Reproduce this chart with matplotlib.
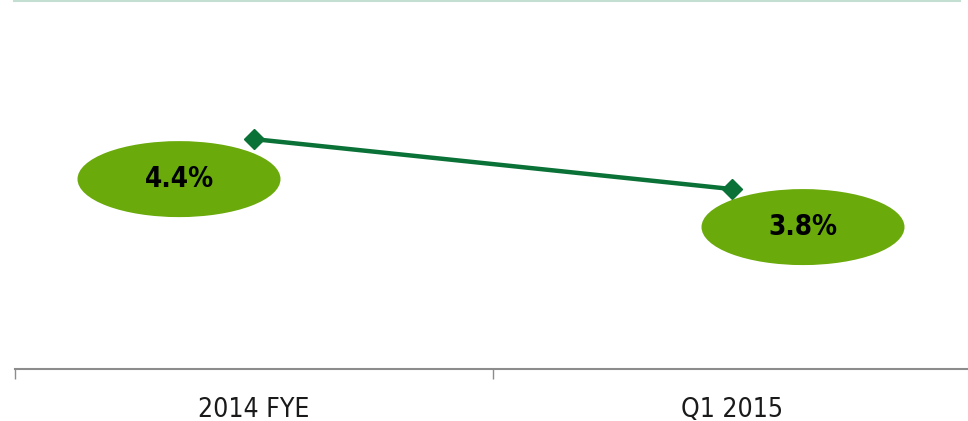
import matplotlib
matplotlib.use("Agg")
import matplotlib.pyplot as plt
from matplotlib.patches import Ellipse
from matplotlib.lines import Line2D

categories = ["2014 FYE", "Q1 2015"]
values = [4.4, 3.8]
value_labels = ["4.4%", "3.8%"]

W, H, DPI = 968, 421, 100
fig = plt.figure(figsize=(W / DPI, H / DPI), dpi=DPI)

# plot area in pixels
left_px, right_px = 15, 971
bottom_px, top_px = 369, 0
ax = fig.add_axes([left_px / W, (H - bottom_px) / H,
                   (right_px - left_px) / W, (bottom_px - top_px) / H])
ax.set_xlim(0, len(categories))
ax.set_ylim(1.64, 6.07)

xs = [i + 0.5 for i in range(len(categories))]
line_color = "#0a7137"
ax.plot(xs, values, color=line_color, lw=3.2, marker="D", ms=10,
        mfc=line_color, mec=line_color, zorder=3, solid_capstyle="butt")

for s in ["top", "right", "left"]:
    ax.spines[s].set_visible(False)
ax.spines["bottom"].set_color("#8c8c8c")
ax.spines["bottom"].set_linewidth(1.5)
ax.set_yticks([])
ax.set_xticks(range(len(categories) + 1))
ax.set_xticklabels([])
ax.tick_params(axis="x", direction="out", length=7, width=1, color="#8c8c8c")
ax.set_xticks(xs, minor=True)
ax.set_xticklabels(categories, minor=True, fontsize=19, family="DejaVu Sans",
                   fontstretch="condensed", color="#1a1a1a")
ax.tick_params(axis="x", which="minor", length=0, pad=20)

# value bubbles, offset from the points in pixels
offsets = [(-75, -40), (71, -38)]
ell_w, ell_h = 203, 76
fig.canvas.draw()
for x, v, lab, (dx, dy) in zip(xs, values, value_labels, offsets):
    px, py = ax.transData.transform((x, v))
    cx, cy = px + dx, py + dy
    e = Ellipse((cx, cy), ell_w, ell_h, transform=None,
                facecolor="#6aaa0b", edgecolor="none", zorder=4)
    fig.patches.append(e)
    e.set_figure(fig)
    fig.text(cx / W, cy / H, lab, ha="center", va="center", fontsize=20,
             fontweight="bold", family="DejaVu Sans", fontstretch="condensed",
             color="black", zorder=5)

# thin header rule along the top edge
fig.add_artist(Line2D([14 / W, 960 / W], [1 - 1 / H, 1 - 1 / H],
                      transform=fig.transFigure, color="#c3dfd2", lw=1.5))

fig.savefig("out.png", dpi=DPI)
